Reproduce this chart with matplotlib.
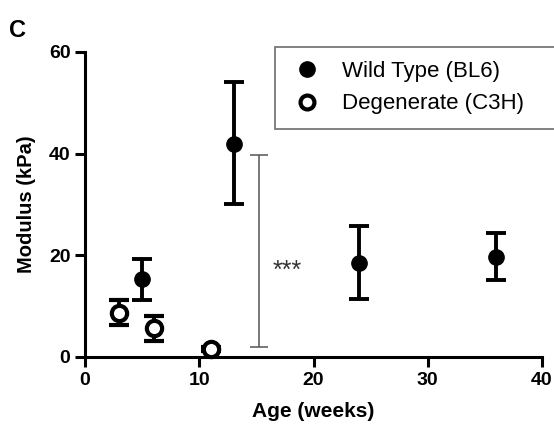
import matplotlib
matplotlib.use("Agg")
import matplotlib.pyplot as plt
from matplotlib.lines import Line2D

plt.rcParams['font.family'] = ['Liberation Sans', 'DejaVu Sans']

# Wild Type (BL6)
wt_age = [5, 13, 24, 36]
wt_mod = [15.3, 41.9, 18.5, 19.7]
wt_lo = [11.2, 30.1, 11.4, 15.2]
wt_hi = [19.3, 54.1, 25.8, 24.4]

# Degenerate (C3H)
dg_age = [3, 6, 11]
dg_mod = [8.7, 5.8, 1.6]
dg_lo = [6.2, 3.1, 1.2]
dg_hi = [11.2, 8.1, 2.0]

# significance bracket
sig_x = 15.2
sig_lo, sig_hi = 2.0, 39.8
sig_text = '***'

fig = plt.figure(figsize=(5.54, 4.26), dpi=100)
ax = fig.add_axes([0.1534, 0.162, 0.825, 0.716])

def yerr(v, lo, hi):
    return [[a - b for a, b in zip(v, lo)], [c - a for a, c in zip(v, hi)]]

ax.errorbar(wt_age, wt_mod, yerr=yerr(wt_mod, wt_lo, wt_hi), fmt='o', color='black',
            ms=11, elinewidth=2.8, capsize=7, capthick=2.8,
            clip_on=False, zorder=3)
ax.errorbar(dg_age, dg_mod, yerr=yerr(dg_mod, dg_lo, dg_hi), fmt='o', color='black',
            mfc='white', mec='black', mew=3, ms=11, elinewidth=2.8, capsize=7,
            capthick=2.8, clip_on=False, zorder=3)

ax.errorbar([sig_x], [(sig_lo + sig_hi) / 2], yerr=[[(sig_hi - sig_lo) / 2]] * 2,
            fmt='none', ecolor='#555555', elinewidth=1.1, capsize=6.5, capthick=1.1)
ax.text(sig_x + 1.2, 17.0, sig_text, fontsize=18, color='#333333', va='center')

ax.set_xlim(0, 40)
ax.set_ylim(0, 60)
ax.set_xticks([0, 10, 20, 30, 40])
ax.set_yticks([0, 20, 40, 60])
for s in ['top', 'right']:
    ax.spines[s].set_visible(False)
for s in ['left', 'bottom']:
    ax.spines[s].set_linewidth(2.2)
ax.tick_params(width=2.2, length=7, labelsize=14)
for lab in ax.get_xticklabels() + ax.get_yticklabels():
    lab.set_fontweight('bold')
ax.set_xlabel('Age (weeks)', fontsize=15, fontweight='bold', labelpad=10)
ax.set_ylabel('Modulus (kPa)', fontsize=14.5, fontweight='bold', labelpad=9)

handles = [
    Line2D([], [], ls='none', marker='o', color='black', ms=11),
    Line2D([], [], ls='none', marker='o', mfc='white', mec='black', mew=3, ms=10),
]
labels = ['Wild Type (BL6)', 'Degenerate (C3H)']
leg = ax.legend(handles, labels, loc='upper left', mode='expand',
                bbox_to_anchor=(0.416, 0.75, 0.64, 0.267), fontsize=16,
                frameon=True, fancybox=False, edgecolor='#555555',
                handletextpad=0.75, handlelength=1.6, borderpad=0.65,
                labelspacing=0.5, borderaxespad=0)
leg.get_frame().set_linewidth(1.3)

fig.text(0.016, 0.913, 'C', fontsize=17, fontweight='bold')

fig.savefig('out.png', dpi=100)
